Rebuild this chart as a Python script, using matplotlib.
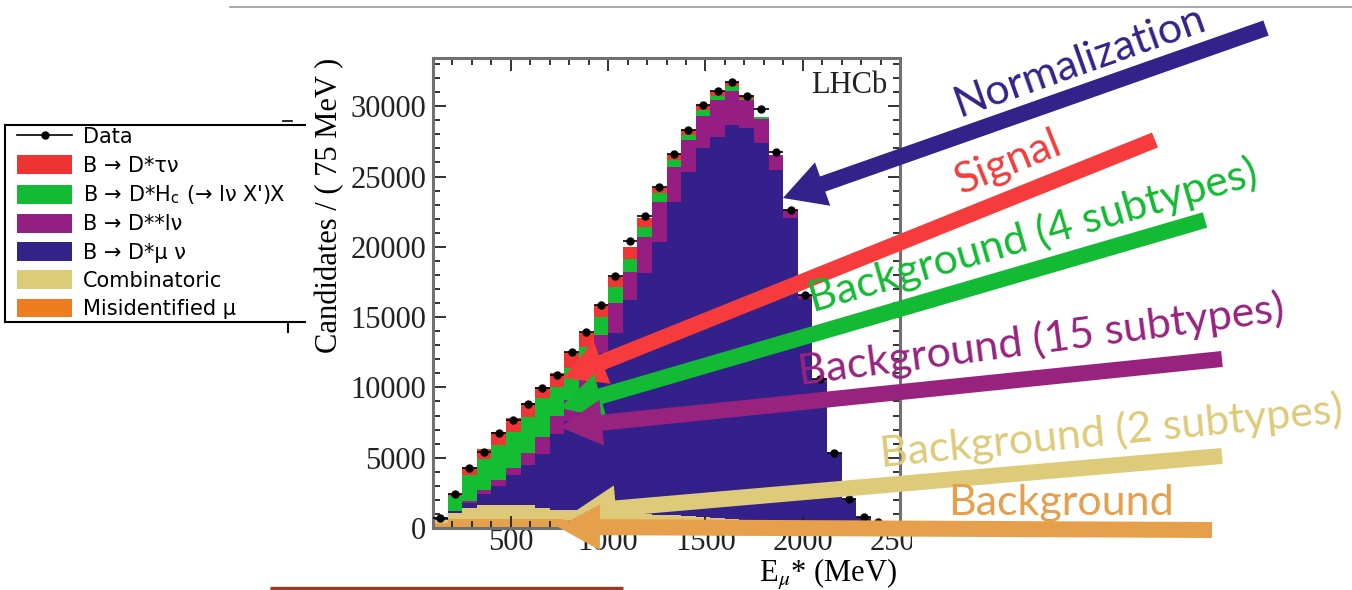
import matplotlib.pyplot as plt
import numpy as np
from matplotlib.lines import Line2D
from matplotlib.patches import Patch, FancyArrow
from matplotlib.transforms import Bbox

plt.rcParams['mathtext.fontset'] = 'stix'

# 75 MeV bins from 100 to 2500 MeV
edges = np.arange(100, 2501, 75)

# stacked components (candidates per bin), bottom to top
misid = [330, 620, 620, 620, 620, 620, 620, 620, 620, 600, 600, 580, 550, 500, 450, 420,
         380, 340, 300, 270, 240, 210, 180, 150, 120, 100, 80, 60, 40, 30, 20, 10]
comb = [250, 470, 780, 1020, 1020, 1020, 1020, 780, 660, 660, 640, 620, 600, 580, 560, 540,
        520, 500, 470, 440, 410, 380, 350, 320, 290, 250, 200, 150, 100, 60, 40, 20]
norm = [120, 140, 350, 780, 1350, 2130, 2840, 3840, 5410, 6340, 8260, 11220, 12690, 15140, 17100, 19410,
        22300, 24460, 26230, 27120, 28010, 27840, 26830, 24990, 21610, 15950, 10120, 5100, 1900, 710, 390, 90]
dstst = [0, 0, 190, 280, 420, 520, 830, 1260, 1280, 1500, 1400, 1310, 2140, 2010, 2610, 2840,
         2500, 2300, 2300, 2600, 2440, 2010, 1700, 1070, 600, 300, 200, 0, 0, 0, 0, 0]
hc = [0, 1050, 1830, 2180, 2490, 2560, 2610, 2720, 2080, 2300, 2000, 1300, 1140, 880, 710, 590,
      500, 360, 430, 310, 310, 50, 190, 0, 0, 0, 0, 0, 0, 0, 0, 0]
tau = [0, 120, 590, 720, 950, 950, 950, 830, 950, 1100, 1000, 830, 750, 900, 590, 400,
       400, 360, 360, 360, 290, 240, 0, 0, 0, 0, 0, 0, 0, 0, 0, 0]
data = [730, 2400, 4240, 5430, 6780, 7680, 8800, 9980, 10880, 12500, 13960, 15860, 17940, 20410, 22190, 24230,
        26600, 28310, 30090, 31100, 31700, 30730, 29800, 26760, 22620, 16600, 10600, 5310, 2040, 800, 450, 120]

layers = [misid, comb, norm, dstst, hc, tau]
layer_colors = ['#E5A04C', '#DCC878', '#33208A', '#961E82', '#14BE32', '#F03535']

legend_labels = ['Data', 'B → D*τν', "B → D*H$_\\mathregular{c}$ (→ lν X')X",
                 'B → D**lν', 'B → D*μ ν', 'Combinatoric', 'Misidentified μ']
legend_colors = ['#EE3333', '#11BB33', '#952083', '#332288', '#DDCC77', '#EE7D22']

fig = plt.figure(figsize=(13.52, 5.90), dpi=100)
ax = fig.add_axes([433 / 1352, 62 / 590, 467 / 1352, 470 / 590])

bottom = np.zeros(len(data))
for vals, c in zip(layers, layer_colors):
    top = bottom + np.array(vals)
    ax.stairs(top, edges, baseline=bottom, fill=True, color=c, lw=0)
    bottom = top

centers = (edges[:-1] + edges[1:]) / 2
ax.errorbar(centers, data, xerr=37.5, fmt='o', color='black', ms=5, elinewidth=1.2, capsize=0, zorder=4)

ax.set_xlim(100, 2500)
ax.set_ylim(0, 33430)
ax.set_xticks([500, 1000, 1500, 2000, 2500])
ax.set_xticks(np.arange(100, 2501, 100), minor=True)
ax.set_yticks([0, 5000, 10000, 15000, 20000, 25000, 30000])
ax.set_yticks(np.arange(0, 33001, 1000), minor=True)
ax.tick_params(which='both', direction='in', top=True, right=True, colors='#222222', width=1.3)
ax.tick_params(which='major', length=9, labelsize=22, pad=5)
ax.tick_params(axis='x', which='major', pad=0)
ax.tick_params(which='minor', length=5)
for lab in ax.get_xticklabels() + ax.get_yticklabels():
    lab.set_fontfamily('Liberation Serif')
for sp in ax.spines.values():
    sp.set_color('#707070')
    sp.set_linewidth(2.2)

# the last x label is cut at the picture edge
clip = Bbox.from_extents(0, 0, 912, 590)
for t in ax.xaxis.get_major_ticks():
    t.label1.set_clip_box(clip)
    t.label1.set_clip_on(True)

ax.set_xlabel(r'E$_{\mu}$* (MeV)', fontsize=22, family='Liberation Serif', loc='right')
ax.xaxis.set_label_coords(0.994, -0.062)
ax.set_ylabel('Candidates / ( 75 MeV )', fontsize=22, family='Liberation Serif', loc='top')
ax.yaxis.set_label_coords(-0.19, 1.0)
ax.text(0.972, 0.972, 'LHCb', transform=ax.transAxes, ha='right', va='top',
        fontsize=22, family='Liberation Serif', color='#222222')

# overlay in pixel units for the slide annotations
ov = fig.add_axes([0, 0, 1, 1], zorder=5)
ov.set_xlim(0, 1352)
ov.set_ylim(590, 0)
ov.axis('off')
ov.patch.set_alpha(0)

ov.plot([230, 1352], [7, 7], color='#9a9a9a', lw=1.2)
ov.plot([270, 623], [588, 588], color='#9C3B1B', lw=2.4, solid_capstyle='butt')

arrows = [
    ((1266, 28), (783, 198), '#33228A'),
    ((1155, 140), (563, 378), '#F53B3B'),
    ((1205, 220), (560, 408), '#13BA33'),
    ((1222, 359), (560, 427), '#98237F'),
    ((1222, 456), (574, 512), '#DDCB7A'),
    ((1212, 530), (558, 527), '#E6A04B'),
]
for (x0, y0), (x1, y1), c in arrows:
    ov.add_patch(FancyArrow(x0, y0, x1 - x0, y1 - y0, width=16, head_width=46, head_length=42,
                            length_includes_head=True, color=c, lw=0))

notes = [
    ('Normalization', (1080, 62), 19.5, '#33228A'),
    ('Signal', (1008, 163), 22, '#F53B3B'),
    ('Background (4 subtypes)', (1033, 236), 16, '#13BA33'),
    ('Background (15 subtypes)', (1041, 340), 7.5, '#98237F'),
    ('Background (2 subtypes)', (1111, 432), 5.5, '#DDCB7A'),
    ('Background', (1061, 503), 0, '#E6A04B'),
]
for txt, (x, y), rot, c in notes:
    ov.text(x, y, txt, rotation=rot, rotation_mode='anchor', ha='center', va='center',
            fontsize=31, family='Lato', color=c)

# legend box (cropped on its right side in the slide)
ov.plot([5, 305], [125, 125], color='black', lw=1.5)
ov.plot([5, 305], [322, 322], color='black', lw=1.5)
ov.plot([5, 5], [125, 322], color='black', lw=1.5)
ov.plot([283, 292], [121, 121], color='black', lw=1.2)
ov.plot([288, 288], [324, 332], color='black', lw=1.5)

handles = [Line2D([], [], color='black', marker='o', ms=5, lw=1.2)]
handles += [Patch(facecolor=c, edgecolor='none') for c in legend_colors]
fig.legend(handles, legend_labels, loc='upper left', bbox_to_anchor=(17 / 1352, 1 - 127 / 590),
           frameon=False, prop={'family': 'DejaVu Sans', 'size': 15},
           handlelength=2.65, handleheight=1.0, handletextpad=0.53, labelspacing=0.37,
           borderpad=0, borderaxespad=0)

fig.savefig('out.png', dpi=100)
